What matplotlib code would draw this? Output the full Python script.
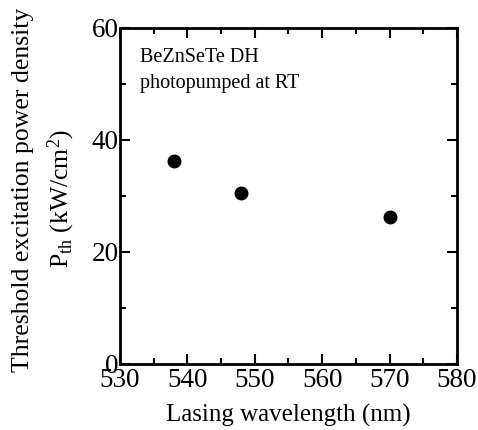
import matplotlib
matplotlib.use("Agg")
import matplotlib.pyplot as plt
from matplotlib.ticker import MultipleLocator

# === DATA ===
wavelength_nm = [538, 548, 570]
threshold_kw = [36.3, 30.5, 26.3]

plt.rcParams['font.family'] = ['Liberation Serif', 'DejaVu Serif']
plt.rcParams['mathtext.fontset'] = 'custom'
plt.rcParams['mathtext.rm'] = 'Liberation Serif'
plt.rcParams['mathtext.it'] = 'Liberation Serif:italic'

fig = plt.figure(figsize=(4.78, 4.30), dpi=100)
ax = fig.add_axes([0.251, 0.1535, 0.705, 0.7815])

ax.plot(wavelength_nm, threshold_kw, 'o', color='black', markersize=9)

ax.set_xlim(530, 580)
ax.set_ylim(0, 60)
ax.xaxis.set_major_locator(MultipleLocator(10))
ax.xaxis.set_minor_locator(MultipleLocator(5))
ax.yaxis.set_major_locator(MultipleLocator(20))
ax.yaxis.set_minor_locator(MultipleLocator(10))

ax.tick_params(which='both', direction='in', top=True, right=True,
               width=1.5, labelsize=19.5)
ax.tick_params(axis='x', pad=3)
ax.tick_params(axis='y', pad=1)
ax.tick_params(which='major', length=7)
ax.tick_params(which='minor', length=4)
for s in ax.spines.values():
    s.set_linewidth(2)

ax.set_xlabel("Lasing wavelength (nm)", fontsize=18, labelpad=8)

# y label as two lines placed separately
fig.text(23 / 478, 1 - 190 / 430, "Threshold excitation power density",
         rotation=90, fontsize=18.5, ha='center', va='center')
fig.text(61 / 478, 1 - 198 / 430, "P$_{\\rm th}$ (kW/cm$^2$)",
         rotation=90, fontsize=18.5, ha='center', va='center')

ax.text(0.059, 0.94, "BeZnSeTe DH\nphotopumped at RT", transform=ax.transAxes,
        fontsize=14.5, va='top', ha='left', linespacing=1.5)

plt.savefig("out.png", dpi=100)
